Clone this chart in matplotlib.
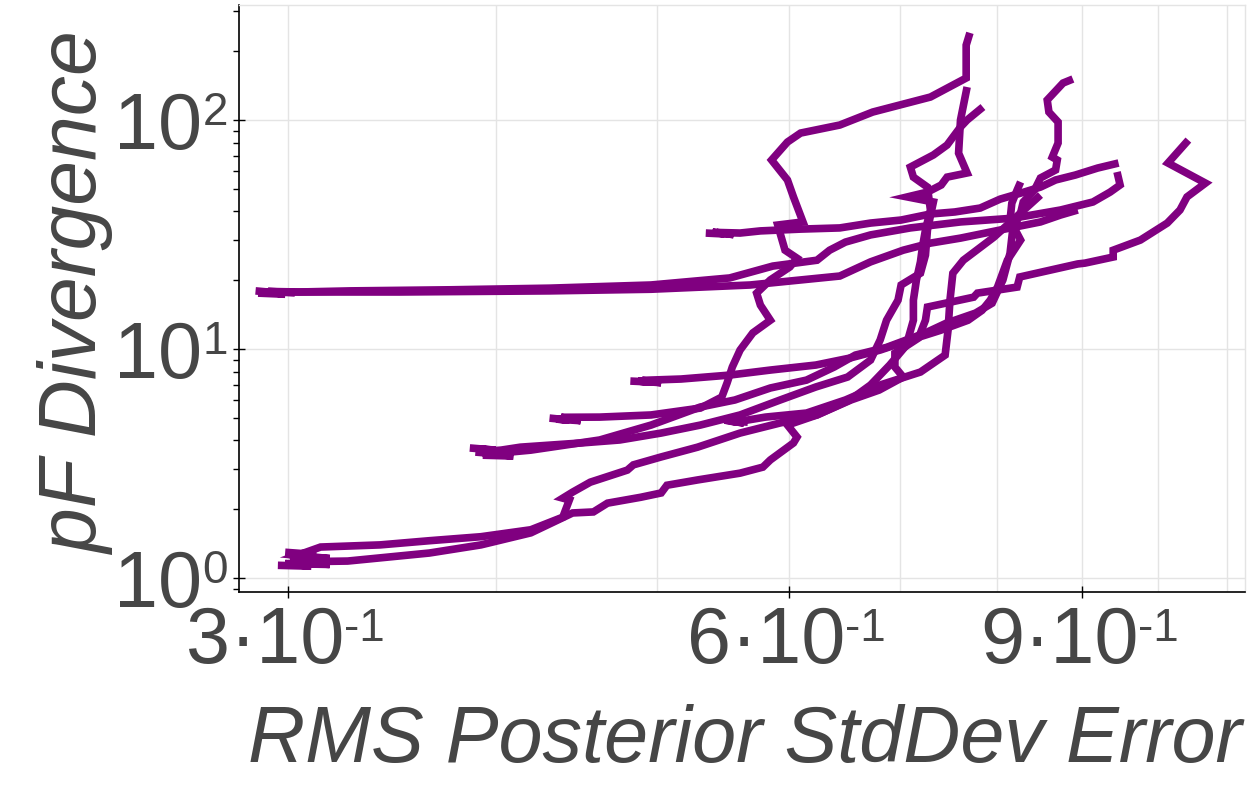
import matplotlib
matplotlib.use("Agg")
import matplotlib.pyplot as plt
from matplotlib.ticker import FixedLocator, NullFormatter

# ---- data: each run is a trajectory (RMS posterior stddev error, pF divergence)
run1_x = [0.287, 0.297, 0.290, 0.303, 0.292, 0.305, 0.327, 0.376, 0.431, 0.496, 0.553, 0.587,
          0.624, 0.635, 0.649, 0.672, 0.710, 0.761, 0.819, 0.874, 0.914, 0.936, 0.949, 0.945]
run1_y = [18.0, 17.6, 17.8, 17.7, 17.9, 17.8, 18.0, 18.2, 18.5, 19.1, 20.5, 23.1,
          24.5, 27.1, 29.4, 31.6, 33.9, 36.0, 37.4, 40.6, 44.0, 48.6, 52.2, 59.5]

run2_x = [0.288, 0.299, 0.292, 0.350, 0.431, 0.496, 0.569, 0.644, 0.672, 0.703, 0.730, 0.761,
          0.804, 0.850, 0.874, 0.895]
run2_y = [17.6, 17.4, 17.8, 17.8, 18.0, 18.3, 19.1, 20.9, 24.1, 27.1, 29.1, 30.6,
          33.2, 36.0, 38.6, 40.6]

run3_x = [0.535, 0.549, 0.540, 0.556, 0.543, 0.561, 0.577, 0.610, 0.644, 0.672, 0.701, 0.730,
          0.755, 0.782, 0.804, 0.827, 0.850, 0.868, 0.892, 0.920, 0.947]
run3_y = [32.2, 31.9, 32.5, 31.7, 32.4, 32.2, 32.9, 33.5, 33.9, 35.6, 36.7, 39.0,
          39.8, 41.4, 45.3, 48.1, 51.1, 54.9, 57.7, 61.9, 65.1]

run4_x = [0.431, 0.443, 0.435, 0.450, 0.438, 0.462, 0.496, 0.531, 0.547, 0.551, 0.555, 0.561,
          0.571, 0.585, 0.577, 0.574, 0.585, 0.601, 0.607, 0.597, 0.591, 0.612, 0.604, 0.599,
          0.586, 0.599, 0.610, 0.644, 0.674, 0.730, 0.767, 0.767, 0.771]
run4_y = [5.01, 4.91, 4.96, 4.88, 5.05, 5.06, 5.17, 5.54, 6.19, 7.13, 8.37, 9.93,
          11.8, 13.4, 15.6, 17.6, 20.1, 22.9, 25.0, 27.1, 34.9, 36.0, 46.3, 54.9,
          67.1, 80.4, 88.0, 95.4, 108.7, 126.4, 153.0, 213.0, 241.0]

run5_x = [0.296, 0.310, 0.299, 0.318, 0.302, 0.326, 0.365, 0.392, 0.420, 0.445, 0.458, 0.467,
          0.489, 0.503, 0.507, 0.529, 0.561, 0.579, 0.585, 0.604, 0.607, 0.599, 0.624, 0.654,
          0.680, 0.703, 0.695, 0.695, 0.704, 0.718, 0.725, 0.727, 0.775, 0.779, 0.823, 0.826,
          0.895, 0.904, 0.940, 0.940, 0.976, 1.013, 1.031, 1.041, 1.068, 1.014, 1.043]
run5_y = [1.14, 1.13, 1.16, 1.15, 1.18, 1.19, 1.29, 1.40, 1.58, 1.93, 1.95, 2.13,
          2.26, 2.36, 2.55, 2.69, 2.88, 3.06, 3.29, 3.90, 4.14, 4.67, 5.17, 6.01,
          6.64, 7.57, 8.37, 9.63, 10.2, 11.2, 13.4, 15.3, 16.9, 17.6, 18.7, 20.7,
          23.6, 23.8, 25.3, 27.1, 30.0, 35.6, 40.6, 46.3, 53.2, 65.1, 82.0]

run6_x = [0.299, 0.312, 0.301, 0.318, 0.304, 0.314, 0.341, 0.365, 0.392, 0.420, 0.439, 0.443,
          0.439, 0.445, 0.456, 0.480, 0.484, 0.503, 0.529, 0.561, 0.593, 0.624, 0.653, 0.672,
          0.690, 0.706, 0.713, 0.713, 0.716, 0.720, 0.722, 0.725, 0.730, 0.727, 0.713, 0.710,
          0.733, 0.747, 0.761, 0.768, 0.785]
run6_y = [1.30, 1.27, 1.24, 1.22, 1.26, 1.37, 1.40, 1.46, 1.52, 1.63, 1.85, 2.20,
          2.24, 2.38, 2.63, 2.97, 3.13, 3.39, 3.74, 4.31, 4.77, 5.17, 6.01, 6.99,
          8.54, 10.4, 13.4, 16.4, 20.1, 24.1, 28.0, 33.2, 40.6, 51.1, 56.5, 62.5,
          70.6, 78.0, 93.5, 100.3, 114.3]

run7_x = [0.386, 0.400, 0.390, 0.408, 0.395, 0.414, 0.450, 0.475, 0.503, 0.531, 0.561, 0.593,
          0.623, 0.651, 0.672, 0.681, 0.687, 0.698, 0.701, 0.720, 0.725, 0.727, 0.733, 0.707,
          0.727, 0.741, 0.747, 0.768, 0.759, 0.761, 0.768]
run7_y = [3.71, 3.63, 3.67, 3.58, 3.55, 3.74, 3.90, 4.02, 4.31, 4.67, 5.17, 6.01,
          6.85, 7.57, 8.98, 11.0, 13.4, 16.4, 19.1, 21.5, 25.8, 33.2, 44.0, 46.3,
          48.6, 52.2, 56.5, 58.9, 71.9, 100.3, 139.8]

run8_x = [0.482, 0.496, 0.487, 0.503, 0.490, 0.517, 0.553, 0.585, 0.623, 0.653, 0.681, 0.710,
          0.740, 0.769, 0.784, 0.793, 0.801, 0.812, 0.827, 0.815, 0.817, 0.823, 0.827]
run8_y = [7.27, 7.20, 7.27, 7.15, 7.32, 7.42, 7.72, 8.12, 8.54, 9.16, 9.93, 11.0,
          12.1, 13.4, 14.8, 16.4, 18.7, 24.5, 30.0, 36.7, 43.5, 49.6, 53.8]

run9_x = [0.567, 0.553, 0.564, 0.549, 0.560, 0.581, 0.615, 0.649, 0.681, 0.720, 0.745, 0.748,
          0.750, 0.753, 0.764, 0.797, 0.827, 0.850]
run9_y = [4.81, 4.86, 4.77, 4.91, 4.84, 5.06, 5.27, 6.01, 6.99, 7.96, 9.44, 12.1,
          16.4, 21.5, 24.5, 30.9, 39.4, 47.2]

run10_x = [0.389, 0.402, 0.393, 0.410, 0.398, 0.420, 0.462, 0.496, 0.531, 0.557, 0.585, 0.615,
           0.639, 0.658, 0.687, 0.725, 0.746, 0.777, 0.795, 0.807, 0.815, 0.818, 0.827, 0.830,
           0.843, 0.850, 0.868, 0.870, 0.864, 0.871, 0.871, 0.860, 0.858, 0.877, 0.889]
run10_y = [3.56, 3.49, 3.45, 3.42, 3.50, 3.63, 4.02, 4.67, 5.60, 6.01, 6.78, 7.34,
           8.37, 9.44, 10.2, 11.8, 13.0, 14.4, 15.9, 20.1, 26.3, 33.2, 39.4, 44.0,
           49.6, 56.0, 60.7, 67.1, 69.1, 79.6, 98.3, 108.7, 122.7, 145.5, 151.5]

runs_x = [run1_x, run2_x, run3_x, run4_x, run5_x, run6_x, run7_x, run8_x, run9_x, run10_x]
runs_y = [run1_y, run2_y, run3_y, run4_y, run5_y, run6_y, run7_y, run8_y, run9_y, run10_y]

# tick labels are written as base + small superscript, like "3·10" + "-1"
x_major = [0.3, 0.6, 0.9]
x_label_base = ["3·10", "6·10", "9·10"]
x_label_sup = ["-1", "-1", "-1"]
x_grid_minor = [0.4, 0.5, 0.7, 0.8, 1.0, 1.1]
y_major = [1, 10, 100]
y_label_base = ["10", "10", "10"]
y_label_sup = ["0", "1", "2"]

# ---- style
plt.rcParams["font.family"] = ["Liberation Sans", "DejaVu Sans"]

text_color = "#464646"
grid_color = "#e4e4e4"
base_size = 57
sup_size = 33

fig = plt.figure(figsize=(12.5, 8), dpi=100)
ax = fig.add_axes([0.1914, 0.2596, 0.8046, 0.7338])

for xs, ys in zip(runs_x, runs_y):
    ax.plot(xs, ys, color="#800080", lw=5.5, solid_joinstyle="miter", solid_capstyle="butt")

ax.set_xscale("log")
ax.set_yscale("log")
ax.set_xlim(0.2806, 1.128)
ax.set_ylim(0.869, 318)

ax.xaxis.set_major_locator(FixedLocator(x_major))
ax.xaxis.set_minor_locator(FixedLocator(x_grid_minor))
ax.xaxis.set_major_formatter(NullFormatter())
ax.xaxis.set_minor_formatter(NullFormatter())
ax.yaxis.set_major_locator(FixedLocator(y_major))
ax.yaxis.set_major_formatter(NullFormatter())
ax.yaxis.set_minor_formatter(NullFormatter())

ax.set_axisbelow(True)
ax.grid(True, which="major", color=grid_color, lw=1)
ax.xaxis.grid(True, which="minor", color=grid_color, lw=1)

for s in ["left", "bottom"]:
    ax.spines[s].set_color("black")
    ax.spines[s].set_linewidth(1.2)
for s in ["top", "right"]:
    ax.spines[s].set_color(grid_color)
    ax.spines[s].set_linewidth(1)

ax.tick_params(axis="x", which="major", direction="inout", length=8, width=1)
ax.tick_params(axis="x", which="minor", length=0)
ax.tick_params(axis="y", which="major", direction="inout", length=8, width=1)
ax.tick_params(axis="y", which="minor", direction="out", length=4, width=1)

# x tick labels
for v, base, sup in zip(x_major, x_label_base, x_label_sup):
    ax.annotate(base, xy=(v, 0), xycoords=("data", "axes fraction"), xytext=(40.8, -50.9),
                textcoords="offset points", ha="right", va="baseline", fontsize=base_size,
                color=text_color, annotation_clip=False)
    ax.annotate(sup, xy=(v, 0), xycoords=("data", "axes fraction"), xytext=(40.8, -34.9),
                textcoords="offset points", ha="left", va="baseline", fontsize=sup_size,
                color=text_color, annotation_clip=False)

# y tick labels
for v, base, sup in zip(y_major, y_label_base, y_label_sup):
    ax.annotate(base, xy=(0, v), xycoords=("axes fraction", "data"), xytext=(-26.5, -20.4),
                textcoords="offset points", ha="right", va="baseline", fontsize=base_size,
                color=text_color, annotation_clip=False)
    ax.annotate(sup, xy=(0, v), xycoords=("axes fraction", "data"), xytext=(-26.5, -3.2),
                textcoords="offset points", ha="left", va="baseline", fontsize=sup_size,
                color=text_color, annotation_clip=False)

fig.text(0.596, 0.0475, "RMS Posterior StdDev Error", fontsize=57, style="italic",
         color=text_color, ha="center", va="baseline")
fig.text(0.062, 0.634, "pF Divergence", fontsize=58, style="italic",
         color=text_color, ha="center", va="center", rotation=90)

fig.savefig("out.png", dpi=100)
